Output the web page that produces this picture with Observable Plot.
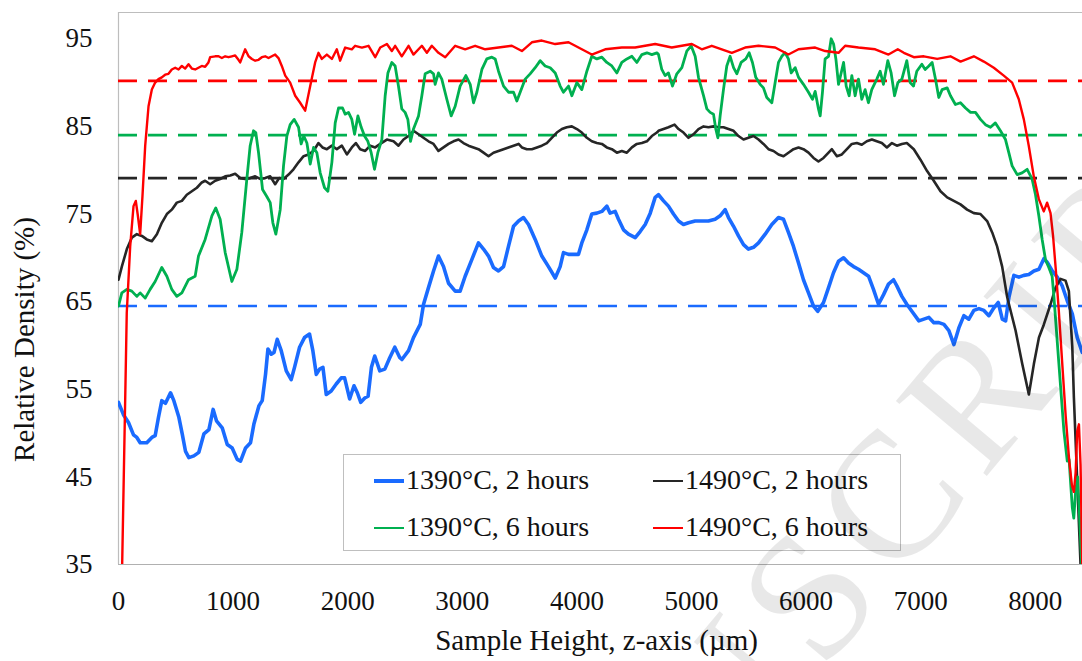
<!DOCTYPE html>
<html>
<head>
<meta charset="utf-8">
<script src="https://cdn.jsdelivr.net/npm/d3@7"></script>
<script src="https://cdn.jsdelivr.net/npm/@observablehq/plot@0.6"></script>
<style>
  html, body { margin: 0; padding: 0; background: #fff; }
  #wrap { position: relative; width: 1082px; height: 661px; overflow: hidden;
          font-family: "Liberation Serif", "Tinos", "Times New Roman", "DejaVu Serif", serif; }
  #wrap > svg { position: absolute; left: 0; top: 0; }
  #legend { position: absolute; left: 343px; top: 454px; width: 556px; height: 95px;
            border: 1px solid #bfbfbf; background: #fff; }
  .item { position: absolute; font-size: 28px; line-height: 28px; color: #111; white-space: nowrap;
          font-family: "Liberation Serif", "Tinos", "Times New Roman", "DejaVu Serif", serif; }
  .swatch { position: absolute; width: 30px; }
  #stamp { position: absolute; left: 0; top: 0; pointer-events: none; }
</style>
</head>
<body>
<div id="wrap"></div>
<script>
// Axis ticks
const xTicks = [0, 1000, 2000, 3000, 4000, 5000, 6000, 7000, 8000];
const yTicks = [35, 45, 55, 65, 75, 85, 95];

// Series names and colours (legend order)
const seriesNames = ["1390°C, 2 hours", "1490°C, 2 hours", "1390°C, 6 hours", "1490°C, 6 hours"];
const seriesColors = ["#1a6bff", "#262626", "#00b050", "#ff0000"];
const seriesWidths = [3.6, 2.6, 2.8, 2.4];

// Mean relative density of each sample (dashed reference levels)
const meanDensity = [64.5, 79.1, 84.0, 90.2];

// Density profiles along the build height: [z (µm), relative density (%)]
const d1390_2h = [[0,53.5],[43,52.1],[87,51.2],[131,49.8],[160,49.5],[189,48.9],[247,48.9],[291,49.5],[320,49.7],[349,51.8],[378,53.7],[410,53.4],[454,54.6],[483,53.7],[527,51.8],[556,49.9],[585,47.9],[614,47.2],[658,47.4],[701,47.8],[745,49.9],[789,50.4],[826,52.7],[855,51.4],[905,50.6],[949,48.7],[992,48.3],[1036,47.0],[1065,46.8],[1109,48.3],[1152,48.9],[1181,51.0],[1225,53.1],[1254,53.7],[1283,56.7],[1304,59.6],[1333,59.0],[1357,59.2],[1385,60.7],[1420,59.4],[1464,57.1],[1507,56.1],[1536,57.5],[1580,59.8],[1623,60.9],[1667,61.3],[1696,59.4],[1726,56.7],[1755,57.3],[1784,57.5],[1813,54.4],[1856,54.8],[1900,55.6],[1944,56.3],[1973,56.3],[2017,53.9],[2055,55.4],[2084,54.6],[2114,53.5],[2149,54.0],[2178,54.2],[2207,57.5],[2236,58.8],[2280,57.1],[2324,57.3],[2367,58.6],[2411,59.8],[2455,58.6],[2473,58.4],[2531,59.4],[2574,60.9],[2633,62.4],[2662,64.7],[2705,66.6],[2749,68.5],[2792,70.2],[2836,69.0],[2880,67.1],[2938,66.2],[2981,66.2],[3025,67.9],[3083,69.8],[3141,71.7],[3185,71.0],[3229,70.2],[3272,68.9],[3316,68.5],[3360,69.0],[3403,71.3],[3447,73.6],[3491,74.2],[3534,74.6],[3578,73.8],[3636,72.1],[3694,70.2],[3752,69.0],[3811,67.7],[3854,69.0],[3883,70.6],[3927,70.4],[3970,70.4],[4014,70.4],[4043,71.7],[4087,73.2],[4130,75.0],[4174,75.1],[4218,75.3],[4261,75.9],[4290,75.1],[4334,75.3],[4363,74.4],[4407,73.2],[4450,72.7],[4509,72.3],[4552,73.0],[4596,73.8],[4640,75.1],[4683,76.9],[4712,77.2],[4756,76.5],[4799,75.9],[4843,75.0],[4887,74.2],[4930,73.8],[4974,74.0],[5032,74.2],[5090,74.2],[5148,74.2],[5206,74.4],[5250,74.8],[5294,75.5],[5323,74.6],[5367,73.6],[5410,72.5],[5454,71.5],[5497,71.0],[5541,71.2],[5585,71.7],[5643,72.7],[5701,73.8],[5759,74.6],[5803,74.4],[5846,72.9],[5890,71.3],[5934,69.4],[5977,67.5],[6021,66.0],[6065,64.5],[6102,63.9],[6152,64.9],[6196,66.6],[6239,68.3],[6283,69.6],[6327,70.0],[6370,69.4],[6414,69.0],[6457,68.7],[6501,68.3],[6545,67.9],[6588,66.4],[6632,64.7],[6676,65.8],[6719,67.0],[6763,67.5],[6792,66.8],[6836,65.6],[6879,64.7],[6923,63.9],[6984,62.8],[7028,63.0],[7072,63.2],[7115,62.6],[7159,62.6],[7203,62.4],[7246,61.7],[7290,60.1],[7333,62.0],[7377,63.4],[7420,63.0],[7464,64.0],[7508,64.2],[7552,64.0],[7595,63.4],[7639,64.3],[7677,64.9],[7712,63.0],[7741,62.8],[7770,65.5],[7813,68.0],[7857,67.8],[7900,68.0],[7944,68.1],[7988,68.5],[8032,68.7],[8075,69.9],[8104,69.5],[8148,68.5],[8192,67.8],[8235,66.8],[8279,65.1],[8323,63.6],[8366,60.9],[8410,59.2]];

const d1490_2h = [[0,67.5],[29,69.0],[73,71.0],[116,72.3],[160,72.7],[204,72.5],[247,72.1],[291,71.9],[335,72.7],[378,74.0],[422,75.0],[465,75.5],[509,76.3],[553,76.5],[596,77.2],[640,77.6],[684,78.0],[727,78.6],[756,78.8],[800,78.4],[844,78.8],[887,79.0],[931,79.3],[975,79.4],[1018,79.6],[1062,79.1],[1105,79.0],[1149,79.1],[1193,79.3],[1236,79.0],[1280,79.1],[1324,79.3],[1367,78.4],[1402,79.1],[1440,79.0],[1484,79.5],[1527,80.1],[1571,80.9],[1615,81.6],[1658,81.8],[1702,82.2],[1745,83.1],[1780,82.6],[1818,82.4],[1862,82.8],[1905,82.4],[1949,82.8],[1993,81.8],[2036,82.6],[2071,83.1],[2109,82.4],[2153,82.2],[2196,82.8],[2240,82.6],[2284,83.0],[2342,83.5],[2400,83.3],[2443,82.8],[2487,83.5],[2531,83.9],[2574,84.5],[2618,84.1],[2661,83.7],[2705,83.3],[2749,83.0],[2792,82.2],[2836,82.6],[2880,83.0],[2923,83.3],[2967,83.5],[3010,83.1],[3054,82.8],[3098,82.6],[3141,82.4],[3185,82.0],[3229,81.6],[3272,82.0],[3316,82.2],[3360,82.4],[3403,82.6],[3447,82.8],[3491,83.0],[3520,82.6],[3563,82.4],[3607,82.4],[3651,82.6],[3694,82.8],[3738,83.1],[3781,83.7],[3825,84.3],[3869,84.7],[3912,84.9],[3956,85.0],[4000,84.7],[4043,84.3],[4087,83.7],[4130,83.3],[4174,83.1],[4218,83.0],[4261,82.6],[4305,82.4],[4349,82.0],[4392,82.2],[4436,82.0],[4480,82.6],[4523,83.0],[4567,83.1],[4611,83.3],[4654,83.9],[4698,84.3],[4712,84.5],[4756,84.7],[4799,84.9],[4852,85.2],[4887,84.7],[4930,84.3],[4974,83.7],[5017,84.1],[5061,84.7],[5105,85.0],[5148,84.9],[5192,85.0],[5236,84.9],[5279,84.9],[5323,84.7],[5367,84.5],[5410,83.9],[5454,83.5],[5497,83.7],[5541,83.9],[5585,83.5],[5628,83.0],[5672,82.4],[5716,82.2],[5759,81.8],[5803,81.6],[5846,82.0],[5890,82.4],[5934,82.6],[5977,82.4],[6021,82.0],[6065,81.4],[6108,81.0],[6152,81.4],[6196,82.0],[6225,82.4],[6269,81.6],[6312,81.8],[6356,82.4],[6399,83.0],[6443,83.1],[6486,82.9],[6530,83.3],[6574,83.5],[6617,83.3],[6661,83.1],[6705,82.6],[6749,83.1],[6792,82.8],[6836,83.0],[6879,83.1],[6940,82.4],[6998,81.2],[7056,79.9],[7114,78.8],[7173,77.6],[7231,76.9],[7289,76.5],[7347,76.1],[7405,75.5],[7464,75.1],[7522,75.0],[7580,74.2],[7624,72.9],[7667,71.3],[7711,69.0],[7755,65.5],[7828,61.7],[7886,57.9],[7944,54.4],[7988,57.9],[8032,60.9],[8075,62.4],[8133,64.7],[8177,66.6],[8221,67.6],[8264,67.4],[8293,66.2],[8323,59.8],[8337,54.0],[8366,44.5],[8395,35.0],[8412,30.0]];

const d1390_6h = [[0,64.5],[29,66.0],[73,66.4],[116,66.2],[160,65.6],[189,66.0],[233,65.4],[276,66.4],[320,67.3],[378,68.9],[422,67.9],[465,66.4],[509,65.6],[553,66.0],[611,67.5],[669,67.9],[698,70.2],[756,72.1],[815,74.8],[849,75.7],[887,74.4],[931,70.6],[989,67.3],[1033,68.7],[1076,72.9],[1120,79.0],[1149,82.8],[1178,84.5],[1198,84.3],[1222,82.0],[1257,77.8],[1294,77.0],[1324,76.3],[1347,74.0],[1373,72.7],[1411,75.5],[1440,80.5],[1469,83.9],[1498,85.2],[1533,85.8],[1571,84.9],[1594,83.0],[1617,83.9],[1644,83.1],[1673,80.7],[1702,82.6],[1731,82.0],[1760,79.7],[1798,78.0],[1827,77.6],[1862,80.9],[1891,85.4],[1920,87.1],[1955,87.1],[1978,86.4],[2007,86.6],[2036,85.8],[2060,84.1],[2089,86.2],[2118,84.9],[2147,83.9],[2176,83.3],[2205,82.0],[2234,80.1],[2263,82.0],[2298,83.5],[2327,88.5],[2351,91.1],[2385,92.3],[2414,91.9],[2443,89.6],[2472,87.0],[2501,86.6],[2525,85.8],[2548,83.3],[2574,84.7],[2618,86.2],[2647,88.5],[2676,91.0],[2720,91.3],[2749,91.0],[2763,89.8],[2792,91.1],[2821,90.4],[2865,88.1],[2903,86.2],[2938,87.3],[2981,89.6],[3031,90.8],[3069,89.8],[3098,87.7],[3127,88.9],[3171,91.5],[3214,92.7],[3258,92.9],[3287,92.7],[3316,91.3],[3360,89.6],[3403,88.9],[3447,88.9],[3476,87.9],[3505,88.9],[3549,90.4],[3592,91.0],[3636,91.7],[3680,92.5],[3723,91.9],[3767,91.7],[3811,91.1],[3854,89.6],[3883,88.9],[3927,89.6],[3956,88.5],[4000,90.0],[4043,89.2],[4087,91.3],[4130,93.0],[4174,92.7],[4218,92.9],[4261,92.3],[4305,91.9],[4349,91.1],[4392,92.3],[4436,92.7],[4480,93.0],[4523,92.3],[4567,93.2],[4611,93.4],[4654,93.2],[4698,93.4],[4712,93.2],[4741,91.5],[4770,90.8],[4799,91.1],[4834,89.6],[4872,91.0],[4916,91.7],[4959,93.6],[4997,94.2],[5032,93.0],[5061,90.6],[5105,88.5],[5134,87.0],[5163,86.6],[5192,86.4],[5212,84.7],[5230,83.7],[5250,86.2],[5279,89.2],[5308,91.9],[5337,93.0],[5367,91.7],[5396,91.0],[5433,92.3],[5474,92.7],[5503,93.4],[5532,92.3],[5561,90.6],[5599,89.8],[5628,89.4],[5657,88.3],[5701,87.7],[5730,90.0],[5759,92.3],[5788,93.0],[5817,93.4],[5846,92.7],[5870,91.1],[5905,91.7],[5934,90.6],[5977,89.8],[6021,88.9],[6056,88.1],[6079,89.0],[6108,87.0],[6123,86.2],[6143,88.9],[6166,92.7],[6196,93.0],[6219,95.0],[6240,94.4],[6260,92.7],[6283,89.8],[6306,91.1],[6327,92.3],[6350,89.6],[6376,88.5],[6399,90.8],[6428,88.5],[6457,90.4],[6486,88.1],[6515,89.2],[6544,87.7],[6573,89.2],[6617,90.4],[6646,91.3],[6675,89.8],[6713,92.5],[6742,91.1],[6772,88.5],[6801,90.0],[6836,90.4],[6879,92.5],[6908,90.0],[6937,89.6],[6966,91.3],[7010,92.1],[7039,91.5],[7071,91.9],[7100,92.3],[7129,90.4],[7158,88.3],[7187,89.2],[7231,89.4],[7260,88.5],[7303,87.5],[7347,87.7],[7391,87.1],[7435,86.6],[7478,86.6],[7522,85.8],[7565,85.2],[7609,84.9],[7652,85.4],[7696,84.5],[7740,83.5],[7769,82.0],[7798,80.5],[7842,79.5],[7885,79.7],[7929,80.1],[7972,79.0],[8002,77.2],[8031,74.8],[8060,72.1],[8089,69.8],[8118,68.9],[8147,67.9],[8163,65.5],[8206,57.9],[8250,50.2],[8279,46.8],[8295,47.0],[8310,44.0],[8323,41.5],[8336,40.3],[8352,43.4],[8370,45.0],[8395,38.0],[8412,33.0]];

const d1490_6h = [[0,25.0],[32,35.0],[60,55.0],[72,63.7],[102,71.3],[131,75.9],[151,76.5],[169,74.8],[189,72.7],[209,77.0],[233,82.8],[262,87.3],[291,89.2],[320,90.0],[349,90.4],[378,90.6],[407,90.9],[436,91.0],[465,91.5],[495,91.7],[524,91.5],[553,91.9],[582,91.6],[611,92.1],[640,91.6],[669,91.5],[698,91.7],[727,91.9],[756,91.8],[785,92.3],[800,92.9],[844,93.0],[873,93.0],[902,92.8],[931,93.0],[960,92.9],[989,93.0],[1018,93.1],[1047,92.6],[1062,92.3],[1105,93.8],[1135,93.0],[1164,92.7],[1193,92.5],[1222,92.6],[1251,92.9],[1280,93.0],[1309,92.8],[1338,93.0],[1367,93.2],[1396,92.8],[1425,91.9],[1455,90.8],[1498,90.0],[1542,88.5],[1585,87.7],[1629,86.8],[1673,89.6],[1716,92.3],[1745,93.4],[1774,92.7],[1818,93.2],[1862,92.7],[1905,93.8],[1934,92.5],[1978,94.0],[2036,93.8],[2065,94.2],[2124,94.0],[2182,94.2],[2240,92.9],[2284,94.0],[2342,94.4],[2385,93.6],[2414,94.2],[2472,93.0],[2531,94.2],[2574,93.2],[2647,94.2],[2691,93.4],[2734,94.2],[2792,93.4],[2851,92.9],[2938,94.2],[3025,93.8],[3112,94.2],[3200,93.8],[3316,94.0],[3432,94.2],[3520,93.6],[3607,94.6],[3694,94.8],[3811,94.4],[3927,94.6],[4043,93.8],[4130,93.2],[4247,93.8],[4392,94.0],[4508,94.0],[4683,94.4],[4828,94.0],[5003,94.4],[5090,93.8],[5177,94.2],[5352,93.4],[5468,94.0],[5585,94.2],[5730,94.0],[5846,93.2],[5934,93.8],[6079,94.0],[6167,93.6],[6283,93.4],[6341,94.2],[6457,94.0],[6603,93.8],[6719,93.2],[6800,93.8],[6853,93.4],[6940,92.9],[7027,93.0],[7144,92.7],[7260,93.0],[7348,92.4],[7464,93.0],[7551,92.4],[7638,91.7],[7725,90.8],[7798,90.0],[7856,88.1],[7900,85.8],[7943,82.8],[7987,79.3],[8031,76.7],[8074,75.3],[8103,76.3],[8133,75.1],[8155,72.5],[8180,68.5],[8205,64.0],[8235,58.0],[8265,52.0],[8295,47.0],[8320,44.0],[8337,43.3],[8352,45.5],[8366,50.2],[8381,51.0],[8395,46.4],[8410,35.0],[8412,30.0]];

const profiles = [d1390_2h, d1490_2h, d1390_6h, d1490_6h];

const serif = "'Liberation Serif', 'Tinos', 'Times New Roman', 'DejaVu Serif', serif";

// Reference levels drawn first, then the profiles on top
const meanMarks = meanDensity.map((v, i) =>
  Plot.ruleY([v], {stroke: seriesColors[i], strokeWidth: 2.6, strokeDasharray: "19 11"}));

const lineMarks = profiles.map((p, i) =>
  Plot.line(p, {x: d => d[0], y: d => d[1], stroke: seriesColors[i],
    strokeWidth: seriesWidths[i], strokeLinejoin: "round", clip: true}));

const chart = Plot.plot({
  width: 1082,
  height: 661,
  marginLeft: 118,
  marginRight: 0,
  marginTop: 12,
  marginBottom: 97,
  style: {background: "transparent", fontFamily: serif, fontSize: "27px", color: "#111", overflow: "visible"},
  x: {domain: [0, 8412], ticks: xTicks, tickSize: 0, tickPadding: 26, tickFormat: d => String(d), label: null},
  y: {domain: [35, 98], ticks: yTicks, tickSize: 0, tickPadding: 26, label: null},
  marks: [
    Plot.ruleX([0], {stroke: "#bdbdbd", strokeWidth: 1.2}),
    Plot.ruleY([98], {stroke: "#bdbdbd", strokeWidth: 1.2}),
    Plot.ruleY([35], {stroke: "#b0b0b0", strokeWidth: 1.2}),
    ...meanMarks,
    ...lineMarks,
    Plot.text(["Relative Density (%)"], {text: d => d, frameAnchor: "left", rotate: -90,
      textAnchor: "middle", lineAnchor: "middle", dx: -94, dy: 51, fontSize: 29, fill: "#111"}),
    Plot.text(["Sample Height, z-axis (µm)"], {text: d => d, frameAnchor: "bottom",
      textAnchor: "middle", lineAnchor: "middle", dx: -4, dy: 76, fontSize: 29, fill: "#111"})
  ]
});

const wrap = document.getElementById("wrap");
wrap.appendChild(chart);

// Legend box: two columns, two rows
const legend = document.createElement("div");
legend.id = "legend";
const cols = [30, 309];
const rows = [26, 73];
seriesNames.forEach((name, i) => {
  const cx = cols[i % 2], cy = rows[Math.floor(i / 2)];
  const sw = document.createElement("div");
  sw.className = "swatch";
  sw.style.left = cx + "px";
  sw.style.top = (cy - seriesWidths[i] / 2) + "px";
  sw.style.height = seriesWidths[i] + "px";
  sw.style.background = seriesColors[i];
  legend.appendChild(sw);
  const t = document.createElement("div");
  t.className = "item";
  t.style.left = (cx + 32) + "px";
  t.style.top = (cy - 15) + "px";
  t.textContent = name;
  legend.appendChild(t);
});
wrap.appendChild(legend);

// Faint diagonal stamp across the lower right
const ns = "http://www.w3.org/2000/svg";
const stamp = document.createElementNS(ns, "svg");
stamp.id = "stamp";
stamp.setAttribute("width", 1082);
stamp.setAttribute("height", 661);
const st = document.createElementNS(ns, "text");
st.setAttribute("transform", "translate(1272,136) rotate(-50)");
st.setAttribute("text-anchor", "end");
st.setAttribute("font-family", serif);
st.setAttribute("font-size", 180);
st.setAttribute("letter-spacing", 15);
st.setAttribute("fill", "#000");
st.setAttribute("fill-opacity", 0.09);
st.textContent = "MANUSCRIPT";
stamp.appendChild(st);
wrap.appendChild(stamp);
</script>
</body>
</html>
